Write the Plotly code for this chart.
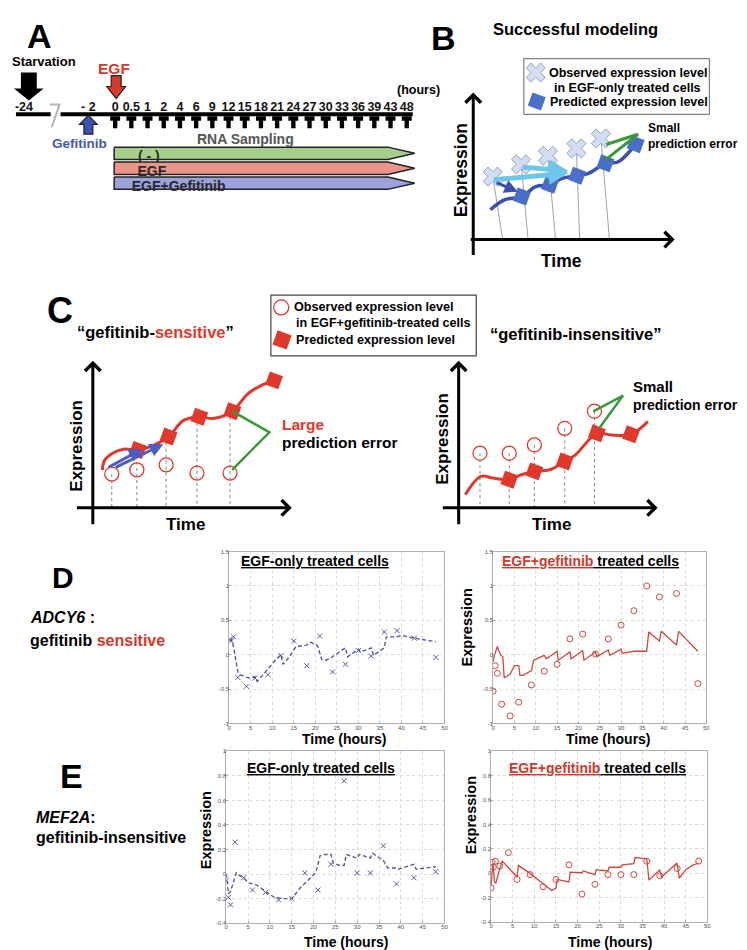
import plotly.graph_objects as go

W, H = 747, 950
FONT = "Liberation Sans, Arial, Helvetica, sans-serif"

# ======================= DATA =======================
# Panel A: sampling schedule
a_sample_labels = ["0", "0.5", "1", "2", "4", "6", "9", "12", "15", "18", "21",
                   "24", "27", "30", "33", "36", "39", "43", "48"]
a_pre_labels = ["-24", "- 2"]
a_pre_index = [-5.63, -1.65]
a_treatments = ["( - )", "EGF", "EGF+Gefitinib"]

# Panel B schematic (arbitrary units)
b_obs_t = [1.97, 4.83, 7.53, 10.4, 12.87]
b_obs_y = [6.33, 7.57, 8.43, 9.17, 10.17]
b_pred_t = [4.9, 7.73, 10.47, 13.33, 16.37]
b_pred_y = [4.33, 5.5, 6.43, 7.67, 9.6]
b_curve_t = [1.73, 3.13, 4.9, 6.3, 7.73, 8.97, 10.47, 11.63, 13.33, 14.63, 16.37]
b_curve_y = [3.0, 4.0, 4.33, 5.33, 5.5, 6.17, 6.43, 6.67, 7.67, 7.83, 9.6]
b_drop_t = [2.97, 5.53, 8.3, 10.73, 13.73]

# Panel C schematic (arbitrary units)
cs_obs_t = [1.91, 4.44, 7.39, 10.5, 13.83]
cs_obs_y = [3.4, 3.83, 4.33, 3.5, 3.5]
cs_pred_t = [4.53, 7.63, 10.73, 14.07, 18.27]
cs_pred_y = [5.83, 7.17, 9.17, 9.73, 12.83]
cs_curve_t = [0.95, 1.2, 2.0, 3.1, 4.53, 6.15, 7.63, 9.15, 10.73, 12.15, 14.07, 15.65, 17.15, 18.27]
cs_curve_y = [3.8, 4.8, 5.5, 5.9, 5.83, 6.3, 7.17, 8.8, 9.17, 9.0, 9.73, 11.5, 12.4, 12.83]
ci_obs_t = [2.15, 5.1, 7.63, 10.69, 13.69]
ci_obs_y = [5.5, 5.5, 6.33, 8.0, 9.73]
ci_pred_t = [5.1, 7.63, 10.69, 13.93, 17.37]
ci_pred_y = [2.83, 3.67, 4.67, 7.5, 7.4]
ci_curve_t = [0.67, 2.24, 3.43, 5.1, 6.3, 7.63, 9.17, 10.69, 11.77, 13.93, 15.37, 17.37, 19.07]
ci_curve_y = [1.33, 3.17, 3.0, 2.83, 3.33, 3.67, 3.83, 4.67, 5.33, 7.5, 7.33, 7.4, 8.67]

# Panel D: ADCY6
d_t = [0, 0.5, 1, 2, 4, 6, 9, 12, 15, 18, 21, 24, 27, 30, 33, 36, 39, 43, 48]
d_egf_obs = [0.22, 0.2, 0.26, -0.33, -0.46, -0.34, -0.29, -0.01, 0.20, -0.16, 0.27,
             -0.25, -0.14, 0.06, -0.02, 0.33, 0.35, 0.24, -0.04]
d_egf_mt = [0, 0.5, 1, 1.5, 2, 2.5, 4, 5, 6, 6.5, 9, 11, 12, 12.5, 14, 15, 15.5, 18, 19,
            20.5, 21.5, 22.5, 24, 26, 27, 27.5, 30, 30.5, 33, 33.5, 36, 36.5, 39, 40, 43, 48]
d_egf_model = [0.2, 0.22, 0.12, -0.1, -0.25, -0.29, -0.33, -0.34, -0.32, -0.39, -0.2, -0.06,
               0.0, -0.14, -0.03, 0.07, 0.12, 0.14, 0.18, 0.13, -0.07, -0.08, -0.03, 0.06,
               0.1, -0.03, 0.08, 0.04, 0.1, -0.01, 0.1, 0.26, 0.26, 0.28, 0.24, 0.19]
d_gef_obs = [-0.53, -0.16, -0.27, -0.72, -0.89, -0.69, -0.44, -0.24, -0.14, 0.23, 0.30,
             0.01, 0.23, 0.43, 0.64, 1.0, 0.84, 0.89, -0.42]
d_gef_mt = [0, 0.3, 1, 1.8, 2.3, 2.6, 4, 5, 6, 6.3, 7, 9, 9.5, 12, 12.5, 15, 15.3, 18, 18.3,
            21, 21.3, 24, 24.3, 27, 27.4, 30, 30.3, 33, 36, 36.5, 39, 39.4, 43, 43.5, 48]
d_gef_model = [-0.1, -0.01, 0.12, -0.01, -0.03, -0.34, -0.28, -0.16, -0.16, -0.3, -0.3,
               -0.23, -0.08, -0.01, -0.06, 0.05, -0.08, 0.04, -0.06, 0.06, -0.08, 0.04,
               -0.03, 0.07, -0.01, 0.08, 0.02, 0.05, 0.05, 0.33, 0.2, 0.34, 0.14, 0.34, 0.05]

# Panel E: MEF2A
e_egf_t = [0, 0.5, 1, 2, 4, 6, 9, 12, 15, 18, 21, 24, 27, 30, 33, 36, 39, 43, 48]
e_egf_obs = [-0.05, -0.19, -0.25, 0.26, -0.03, -0.13, -0.15, -0.21, -0.2, 0.01, -0.13,
             0.08, 0.76, 0.01, 0.01, 0.23, -0.08, -0.03, 0.02]
e_egf_mt = [0, 0.5, 1, 2.3, 3, 4, 5, 7, 9, 11, 13, 15, 17, 19, 20.5, 21.5, 22.5, 24, 24.5,
            26, 27, 27.5, 30, 30.5, 33, 33.5, 36, 37, 39, 39.5, 43, 43.5, 48]
e_egf_model = [0, -0.16, -0.14, 0.01, -0.01, -0.03, -0.07, -0.09, -0.14, -0.19, -0.2, -0.2,
               -0.11, -0.04, 0.01, 0.15, 0.16, 0.16, 0.09, 0.07, 0.07, 0.16, 0.13, 0.16,
               0.13, 0.17, 0.11, 0.05, 0.05, 0.04, 0.08, 0.04, 0.06]
e_gef_t = [0, 0.25, 0.5, 1, 2, 4, 6, 9, 12, 15, 18, 21, 24, 27, 30, 33, 36, 39, 43, 48]
e_gef_obs = [-0.12, 0.09, 0.05, 0.10, 0.06, 0.17, -0.05, -0.01, -0.11, -0.05, 0.07, -0.17,
             -0.09, -0.01, -0.01, -0.01, 0.10, -0.02, 0.04, 0.10]
e_gef_mt = [0, 0.4, 0.8, 1.1, 2, 2.6, 6, 6.3, 9, 12, 14, 15, 15.3, 18, 18.3, 21, 21.3, 24,
            24.3, 27, 27.3, 30, 30.3, 33, 33.3, 36, 36.5, 39, 39.4, 43, 43.5, 45, 46.5, 48]
e_gef_model = [-0.1, 0.08, -0.07, -0.08, 0.04, 0.1, -0.03, 0.065, 0, -0.08, -0.14, -0.12,
               -0.05, -0.07, 0.01, 0.005, 0.02, -0.01, 0.03, 0.02, 0.05, 0.05, 0.07, 0.08,
               0.13, 0.12, -0.055, 0.03, -0.03, 0.085, -0.04, 0.03, 0.065, 0.085]

d_yticks = [-1, -0.5, 0, 0.5, 1, 1.5]
d_yticklabels = ["-1", "-0.5", "0", "0.5", "1", "1.5"]
e_yticks = [-0.4, -0.2, 0, 0.2, 0.4, 0.6, 0.8, 1]
e_yticklabels = ["-0.4", "-0.2", "0", "0.2", "0.4", "0.6", "0.8", "1"]
time_ticks = list(range(0, 51, 5))

# ======================= helpers =======================
def xdom(a, b): return [a / W, b / W]
def ydom(a, b): return [1 - b / H, 1 - a / H]
def PX(x): return x / W
def PY(y): return 1 - y / H

A_PX0, A_STEP = 106.0, 16.33
def ax_(p): return (p - A_PX0) / A_STEP  # panel-A pixel -> sample index units

annotations, shapes = [], []
fig = go.Figure()

def text(x, y, s, size, color="#000", bold=True, family=FONT, xanchor="center", angle=0):
    annotations.append(dict(x=PX(x), y=PY(y), xref="paper", yref="paper",
                            text=(f"<b>{s}</b>" if bold else s), showarrow=False,
                            font=dict(size=size, color=color, family=family),
                            xanchor=xanchor, yanchor="middle", textangle=angle, borderpad=0))

def arrow(axn, x0, y0, x1, y1, color, width, head=4, size=1.0):
    annotations.append(dict(x=x1, y=y1, ax=x0, ay=y0, xref=axn, yref=axn.replace("x", "y"),
                            axref=axn, ayref=axn.replace("x", "y"), text="", showarrow=True,
                            arrowhead=head, arrowsize=size, arrowwidth=width, arrowcolor=color))

# ======================= axes =======================
def data_axes(n, xd, yd, yr, ytv, ytt):
    s = "" if n == 1 else str(n)
    common = dict(showline=True, mirror=True, linecolor="#b0b0b0", linewidth=0.8,
                  showgrid=True, gridcolor="#dadada", griddash="dot", gridwidth=0.7,
                  zeroline=False, ticks="inside", ticklen=2, tickcolor="#aaa",
                  ticklabelstandoff=-2,
                  tickfont=dict(size=6, color="#555", family=FONT), fixedrange=True)
    fig.update_layout(**{
        f"xaxis{s}": dict(domain=xdom(*xd), range=[0, 50], tickvals=time_ticks,
                          ticktext=[str(v) for v in time_ticks], anchor=f"y{s}", **common),
        f"yaxis{s}": dict(domain=ydom(*yd), range=yr, tickvals=ytv, ticktext=ytt,
                          anchor=f"x{s}", **common),
    })

data_axes(1, (221, 438), (544, 717), [-1, 1.5], d_yticks, d_yticklabels)
data_axes(2, (487, 702), (544, 717), [-1, 1.5], d_yticks, d_yticklabels)
data_axes(3, (218, 438), (745, 918), [-0.4, 1], e_yticks, e_yticklabels)
data_axes(4, (485, 703), (745, 917), [-0.4, 1], e_yticks, e_yticklabels)

def hidden_axes(n, xd, yd, xr, yr):
    fig.update_layout(**{
        f"xaxis{n}": dict(domain=xdom(*xd), range=xr, visible=False, anchor=f"y{n}", fixedrange=True),
        f"yaxis{n}": dict(domain=ydom(*yd), range=yr, visible=False, anchor=f"x{n}", fixedrange=True),
    })

hidden_axes(5, (0, 430), (0, 240), [ax_(0), ax_(430)], [240, 0])
hidden_axes(6, (440, 747), (40, 260), [-2.7, 28], [-3, 19])
hidden_axes(7, (40, 380), (280, 530), [-4.35, 29.65], [-3, 22])
hidden_axes(8, (420, 747), (280, 530), [-3.23, 29.47], [-3, 22])

# ======================= Panel A =======================
def xa(axn): return dict(xaxis=axn, yaxis=axn.replace("x", "y"))

fig.add_trace(go.Scatter(x=[ax_(6), ax_(406)], y=[104, 104], mode="lines",
                         line=dict(color="black", width=4), **xa("x5")))
fig.add_trace(go.Scatter(x=[ax_(41), ax_(51)], y=[104, 104], mode="lines",
                         line=dict(color="white", width=7), **xa("x5")))
fig.add_trace(go.Scatter(x=[ax_(40), ax_(50), ax_(42)], y=[94, 94, 117], mode="lines",
                         line=dict(color="#b5b5b5", width=2), **xa("x5")))
fig.add_trace(go.Scatter(x=list(range(len(a_sample_labels))), y=[97] * len(a_sample_labels),
                         mode="text", text=[f"<b>{t}</b>" for t in a_sample_labels],
                         textfont=dict(size=12.5, color="#111", family=FONT), **xa("x5")))
fig.add_trace(go.Scatter(x=a_pre_index, y=[97, 97], mode="text",
                         text=[f"<b>{t}</b>" for t in a_pre_labels],
                         textfont=dict(size=12.5, color="#111", family=FONT), **xa("x5")))
hw, sw = 5 / A_STEP, 2.2 / A_STEP
for i in range(len(a_sample_labels)):
    pts = [(i - hw, 106), (i + hw, 106), (i + hw, 110.5), (i + sw, 110.5), (i + sw, 118),
           (i - sw, 118), (i - sw, 110.5), (i - hw, 110.5)]
    shapes.append(dict(type="path", xref="x5", yref="y5", fillcolor="black", line=dict(width=0),
                       path="M " + " L ".join(f"{x},{y}" for x, y in pts) + " Z"))

def block_arrow(cx, y_tail, y_base, y_tip, s_hw, h_hw, fill, outline=None):
    pts = [(cx - s_hw, y_tail), (cx + s_hw, y_tail), (cx + s_hw, y_base), (cx + h_hw, y_base),
           (cx, y_tip), (cx - h_hw, y_base), (cx - s_hw, y_base)]
    shapes.append(dict(type="path", xref="x5", yref="y5", fillcolor=fill,
                       line=dict(width=1.2 if outline else 0, color=outline or fill),
                       path="M " + " L ".join(f"{ax_(x)},{y}" for x, y in pts) + " Z"))

block_arrow(19, 62, 78, 90, 8, 15, "black")
block_arrow(107, 65, 76, 88, 5, 9.5, "#d9382a", "#222")
block_arrow(79, 124, 114, 105, 4.5, 9, "#3d51b3", "#222")

bar_colors = ["#a6cf8c", "#e9958a", "#9ba1db"]
bar_text_x = [140, 143, 170]
for k, lab in enumerate(a_treatments):
    top = 137 + 15 * k
    bot = top + 12.5
    mid = (top + bot) / 2
    fig.add_trace(go.Scatter(x=[ax_(105), ax_(381), ax_(408), ax_(381), ax_(105), ax_(105)],
                             y=[top, top, mid, bot, bot, top], mode="lines", fill="toself",
                             fillcolor=bar_colors[k], line=dict(color="#222", width=1.5),
                             **xa("x5")))
    fig.add_trace(go.Scatter(x=[ax_(bar_text_x[k])], y=[mid + 4], mode="text",
                             text=[f"<b>{lab}</b>"],
                             textfont=dict(size=14, color="#2a2a2a", family=FONT), **xa("x5")))

text(30, 25, "A", 34)
text(34, 51, "Starvation", 13)
text(105, 58, "EGF", 15.5, color="#d23a2a")
text(70, 133, "Gefitinib", 13.5, color="#4458b8")
text(237, 129, "RNA Sampling", 14, color="#555")
text(412, 79, "(hours)", 12.5)

# ======================= Panel B =======================
text(437, 27, "B", 34)
text(570, 18, "Successful modeling", 16.5)
shapes.append(dict(type="rect", xref="paper", yref="paper", x0=PX(518), x1=PX(705),
                   y0=PY(104), y1=PY(48), line=dict(color="#666", width=1)))
text(623, 62, "Observed expression level", 12.5)
text(623, 77, "in EGF-only treated cells", 12.5)
text(624, 92, "Predicted expression level", 12.5)

dx, dy = [], []
for t0, y0, t1 in zip(b_obs_t, b_obs_y, b_drop_t):
    dx += [t0, t1, None]; dy += [y0, 0, None]
fig.add_trace(go.Scatter(x=dx, y=dy, mode="lines", line=dict(color="#888", width=0.8), **xa("x6")))
arrow("x6", 0, -1.7, 0, 14.8, "black", 3)
arrow("x6", -0.4, 0, 20.3, 0, "black", 3)
fig.add_trace(go.Scatter(x=b_curve_t, y=b_curve_y, mode="lines",
                         line=dict(color="#3d4fb5", width=3.5, shape="spline"), **xa("x6")))
arrow("x6", 1.9, 6.0, 9.6, 6.7, "#6ec6ea", 5, head=2, size=0.8)
arrow("x6", 4.8, 7.3, 9.6, 6.9, "#6ec6ea", 5, head=2, size=0.8)
arrow("x6", 2.2, 5.8, 4.5, 4.8, "#3d4fb5", 3, head=2, size=0.9)
fig.add_trace(go.Scatter(x=b_pred_t + [6.4], y=b_pred_y + [13.9], mode="markers",
                         marker=dict(symbol="square", angle=20, size=14, color="#4a6fc8"),
                         cliponaxis=False, **xa("x6")))
fig.add_trace(go.Scatter(x=b_obs_t + [6.3], y=b_obs_y + [16.8], mode="markers",
                         marker=dict(symbol="x", size=17, color="#d3ddef", line=dict(color="#8fa3c9", width=1)),
                         cliponaxis=False, **xa("x6")))
fig.add_trace(go.Scatter(x=[13.4, 16.6, 13.3], y=[9.57, 10.6, 8.0], mode="lines",
                         line=dict(color="#3a9a3a", width=3), **xa("x6")))
text(455, 160, "Expression", 17.5, angle=-90)
text(556, 252, "Time", 17.5)
text(642, 118, "Small", 12, xanchor="left")
text(642, 134, "prediction error", 12, xanchor="left")

# ======================= Panel C =======================
RED_C = "#e0392b"
text(50, 301, "C", 36)
text(147, 323, f"“gefitinib-<span style='color:{RED_C}'>sensitive</span>”", 16.5)
text(570, 325, "“gefitinib-insensitive”", 16.5)
shapes.append(dict(type="rect", xref="paper", yref="paper", x0=PX(263), x1=PX(470),
                   y0=PY(347), y1=PY(286), line=dict(color="#444", width=1.2)))
text(367, 298, "Observed expression level", 12.6)
text(377, 314, "in EGF+gefitinib-treated cells", 12.6)
text(368, 331, "Predicted expression level", 12.6)

def c_panel(axn, obs_t, obs_y, pred_t, pred_y, curve_t, curve_y, tops):
    dx, dy = [], []
    for t0, y0 in zip(obs_t, tops):
        dx += [t0, t0, None]; dy += [y0, 0, None]
    fig.add_trace(go.Scatter(x=dx, y=dy, mode="lines", line=dict(color="#666", width=0.8, dash="dot"),
                             **xa(axn)))
    arrow(axn, 0, -1.8, 0, 14.8, "black", 3)
    arrow(axn, -1.75, 0, 20.05, 0, "black", 3)
    fig.add_trace(go.Scatter(x=curve_t, y=curve_y, mode="lines",
                             line=dict(color=RED_C, width=3, shape="spline"), **xa(axn)))
    fig.add_trace(go.Scatter(x=pred_t, y=pred_y, mode="markers", cliponaxis=False,
                             marker=dict(symbol="square", angle=20, size=14, color=RED_C), **xa(axn)))
    fig.add_trace(go.Scatter(x=obs_t, y=obs_y, mode="markers", cliponaxis=False,
                             marker=dict(symbol="circle", size=14, color="rgba(255,255,255,0)",
                                         line=dict(color=RED_C, width=1.3)), **xa(axn)))

cs_tops = [cs_obs_y[0]] + [max(o, p) for o, p in zip(cs_obs_y[1:], cs_pred_y[:-1])]
c_panel("x7", cs_obs_t, cs_obs_y, cs_pred_t, cs_pred_y, cs_curve_t, cs_curve_y, cs_tops)
c_panel("x8", ci_obs_t, ci_obs_y, ci_pred_t, ci_pred_y, ci_curve_t, ci_curve_y, ci_obs_y)
fig.add_trace(go.Scatter(x=[19.08], y=[16.9], mode="markers", cliponaxis=False,
                         marker=dict(symbol="square", angle=20, size=15, color=RED_C), **xa("x7")))
fig.add_trace(go.Scatter(x=[18.99], y=[20.17], mode="markers", cliponaxis=False,
                         marker=dict(symbol="circle", size=15, color="white", line=dict(color=RED_C, width=1.3)),
                         **xa("x7")))
arrow("x7", 1.43, 4.0, 5.0, 5.93, "#4a5cc8", 3, head=2, size=0.9)
arrow("x7", 2.15, 4.0, 7.1, 6.4, "#4a5cc8", 3, head=2, size=0.9)
fig.add_trace(go.Scatter(x=[14.05, 17.8, 14.05], y=[9.73, 7.6, 3.83], mode="lines",
                         line=dict(color="#3a9a3a", width=2.5), **xa("x7")))
fig.add_trace(go.Scatter(x=[13.57, 16.57, 14.17], y=[9.7, 11.3, 8.0], mode="lines",
                         line=dict(color="#3a9a3a", width=2.5), **xa("x8")))
text(67, 437, "Expression", 17, angle=-90)
text(177, 517, "Time", 17)
text(436, 430, "Expression", 17, angle=-90)
text(546, 517, "Time", 17)
text(273, 416, "Large", 15.5, color=RED_C, xanchor="left")
text(273, 434, "prediction error", 15.5, xanchor="left")
text(627, 378, "Small", 15, xanchor="left")
text(627, 397, "prediction error", 14, xanchor="left")

# ======================= Panels D & E =======================
BLUE_M = "#55599f"
RED_M = "#d2473b"
def egf_only(axn, t, obs, mt, model):
    fig.add_trace(go.Scatter(x=mt, y=model, mode="lines",
                             line=dict(color=BLUE_M, width=1.4, dash="4px,2.5px"), **xa(axn)))
    fig.add_trace(go.Scatter(x=t, y=obs, mode="markers",
                             marker=dict(symbol="x-thin", size=5, line=dict(color=BLUE_M, width=1)), **xa(axn)))

def egf_gef(axn, t, obs, mt, model):
    fig.add_trace(go.Scatter(x=mt, y=model, mode="lines", line=dict(color=RED_M, width=1.3), **xa(axn)))
    fig.add_trace(go.Scatter(x=t, y=obs, mode="markers",
                             marker=dict(symbol="circle-open", size=6, color=RED_M, line=dict(width=1)),
                             **xa(axn)))

egf_only("x", d_t, d_egf_obs, d_egf_mt, d_egf_model)
egf_gef("x2", d_t, d_gef_obs, d_gef_mt, d_gef_model)
egf_only("x3", e_egf_t, e_egf_obs, e_egf_mt, e_egf_model)
egf_gef("x4", e_gef_t, e_gef_obs, e_gef_mt, e_gef_model)

only_title = "<b><u>EGF-only treated cells</u></b>"
gef_title = "<b><span style='color:#d0392b'><u>EGF+gefitinib</u></span><u> treated cells</u></b>"
text(307, 553, only_title, 14, bold=False)
text(585, 553, gef_title, 14, bold=False)
text(314, 762, only_title, 14, bold=False)
text(592, 762, gef_title, 14, bold=False)
for cx, cy in [(337, 733), (603, 733), (339, 937), (605, 937)]:
    text(cx, cy, "Time (hours)", 14)
for cx, cy in [(461, 620), (197, 824), (465, 809)]:
    text(cx, cy, "Expression", 14.5, angle=-90)

text(53, 570, "D", 30)
text(19, 610, "<i>ADCY6</i> :", 16, xanchor="left")
text(19, 634, "gefitinib <span style='color:#d0392b'>sensitive</span>", 16, xanchor="left")
text(62, 770, "E", 34)
text(25, 812, "<i>MEF2A</i>:", 16, xanchor="left")
text(25, 832, "gefitinib-insensitive", 16, xanchor="left")

fig.update_layout(width=W, height=H, margin=dict(l=0, r=0, t=0, b=0),
                  paper_bgcolor="white", plot_bgcolor="white", showlegend=False,
                  annotations=annotations, shapes=shapes,
                  font=dict(family=FONT, color="#000"))
fig.write_html("out.html")
